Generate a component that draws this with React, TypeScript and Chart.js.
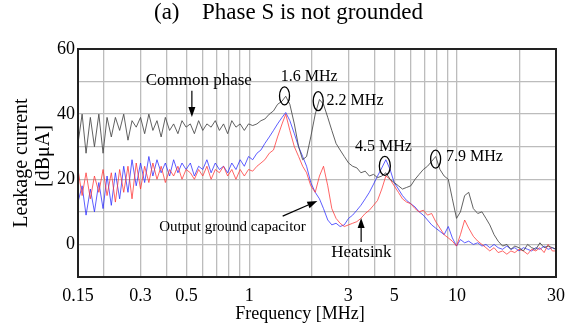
import { useEffect, useRef } from 'react';
import { Chart, registerables } from 'chart.js';

Chart.register(...registerables);

const FONT = '"Liberation Serif", "Times New Roman", Times, serif';

// Frequency samples [MHz]
const FREQ = [
  0.150, 0.157, 0.164, 0.172, 0.180, 0.189, 0.198, 0.207, 0.217, 0.227,
  0.238, 0.249, 0.261, 0.273, 0.286, 0.300, 0.314, 0.329, 0.344, 0.360,
  0.377, 0.395, 0.414, 0.433, 0.454, 0.475, 0.497, 0.521, 0.545, 0.571,
  0.598, 0.626, 0.656, 0.687, 0.719, 0.753, 0.788, 0.825, 0.864, 0.905,
  0.948, 0.993, 1.04, 1.09, 1.14, 1.19, 1.25, 1.31, 1.37, 1.44,
  1.50, 1.57, 1.65, 1.73, 1.81, 1.89, 1.98, 2.08, 2.18, 2.28,
  2.39, 2.50, 2.62, 2.74, 2.87, 3.01, 3.15, 3.30, 3.45, 3.62,
  3.79, 3.97, 4.15, 4.35, 4.55, 4.77, 4.99, 5.23, 5.47, 5.73,
  6.00, 6.29, 6.58, 6.89, 7.22, 7.56, 7.91, 8.29, 8.68, 9.09,
  9.51, 9.96, 10.4, 10.9, 11.4, 12.0, 12.6, 13.2, 13.8, 14.4,
  15.1, 15.8, 16.6, 17.4, 18.2, 19.0, 19.9, 20.9, 21.9, 22.9,
  24.0, 25.1, 26.3, 27.5, 28.8, 30.0,
];

// Common phase [dBuA]
const COMMON = [
  31, 40, 28, 39, 30, 40, 28, 39,
  33, 39, 35, 40, 32, 38, 36, 39, 34, 40, 35, 38, 33, 39, 35, 37, 34, 38, 36,
  37, 34, 38, 35, 37, 36, 38, 35, 37, 34, 38, 36, 37, 35, 37,
  36.5, 37, 38, 38.5, 40, 41, 43, 44, 45.5,
  43, 37, 30, 26, 27, 33, 40, 44.5, 43, 39, 35, 31, 29, 27,
  25, 24, 23.5, 22, 22.5, 21, 21.5, 20.5, 21, 22, 20, 19, 18, 17, 17.5, 18, 20, 21.5, 23, 24, 25.5,
  27, 23, 21, 20, 14, 8, 10, 15, 16, 11, 9.5, 10, 8, 6, 3, 1,
  -0.5, 0, -1.5, -0.5, -1, -2, 0, -1, -1.5, 0.5, -1, -0.5, -1, -1.5,
];

// Output ground capacitor [dBuA]
const OUTPUT_CAP = [
  13, 18, 9, 17, 10, 19, 11,
  21, 12, 22, 14, 24, 16, 26, 18, 25, 19, 27, 21, 26, 22, 25, 21, 26, 22, 25, 23,
  25, 21, 24, 23, 26, 22, 25, 23, 24, 22, 25, 23, 26, 24, 27,
  26, 28, 29, 31, 33, 35, 37, 39, 40.5,
  38, 34, 30, 27, 24, 19, 16, 14, 11, 7.5, 6, 6.5, 5.5, 6,
  8, 9, 10.5, 12, 14, 16, 18.5, 21, 23.5, 26, 23, 19, 17, 15, 13.5, 12.5, 11.5, 10, 9, 7.5, 6,
  5, 4, 3, 5.5, 2, -0.5, 1.5, 0.5, 1, 0, 0.5, -0.5, 0, -1, 0, -1,
  -1.5, -0.5, -1.5, -1, -2, -1, -1.5, -2, -1, -1.5, -0.5, -1.5, -1, -1.5,
];

// Heatsink [dBuA]
const HEATSINK = [
  23, 15, 22, 14, 21, 16, 23,
  15, 22, 13, 23, 16, 24, 14, 25, 17, 24, 19, 25, 20, 24, 19, 23, 21, 24, 20, 23,
  22, 20, 23, 21, 24, 20, 23, 22, 24, 21, 23, 20, 23, 21, 23,
  22.5, 24, 25, 26, 28, 29, 33, 37, 40,
  35, 30, 27, 24, 22, 18, 16, 21, 24, 18, 11, 8, 6.5, 5.5,
  6, 6.5, 7, 8, 9.5, 10.5, 12, 13.5, 17, 21, 20, 18, 16, 14, 13, 12.5, 11, 10, 10.5, 9, 9.5,
  7, 5, 3, 2, 1, -0.5, 3, 7.5, 5, 2.5, 1, 0, -1, -2, -1, -2.5,
  -2, -3, -2, -2.5, -1.5, -2, -3, -1.5, -2, -1, -2.5, 0, -2, -2,
];

const X_GRID = [0.15, 0.2, 0.3, 0.4, 0.5, 0.6, 0.7, 0.8, 0.9, 1, 2, 3, 4, 5, 6, 7, 8, 9, 10, 20, 30];
const X_LABELS = [0.15, 0.3, 0.5, 1, 3, 5, 10, 30];
const Y_GRID = [-10, 0, 10, 20, 30, 40, 50, 60];
const Y_LABELS = [0, 20, 40, 60];

function arrow(ctx: CanvasRenderingContext2D, x1: number, y1: number, x2: number, y2: number) {
  const ang = Math.atan2(y2 - y1, x2 - x1);
  const len = 10;
  const hw = 3.5;
  const bx = x2 - len * Math.cos(ang);
  const by = y2 - len * Math.sin(ang);
  ctx.beginPath();
  ctx.moveTo(x1, y1);
  ctx.lineTo(bx, by);
  ctx.stroke();
  ctx.beginPath();
  ctx.moveTo(x2, y2);
  ctx.lineTo(bx + hw * Math.sin(ang), by - hw * Math.cos(ang));
  ctx.lineTo(bx - hw * Math.sin(ang), by + hw * Math.cos(ang));
  ctx.closePath();
  ctx.fill();
}

const annotPlugin = {
  id: 'annot',
  afterDraw(chart: any) {
    const { ctx, chartArea, scales } = chart;
    const xs = scales.x;
    const ys = scales.y;
    const px = (f: number) => xs.getPixelForValue(f);
    const py = (v: number) => ys.getPixelForValue(v);
    ctx.save();
    // frame
    ctx.strokeStyle = '#222';
    ctx.lineWidth = 2;
    ctx.strokeRect(chartArea.left, chartArea.top, chartArea.right - chartArea.left, chartArea.bottom - chartArea.top);

    ctx.fillStyle = '#000';
    ctx.strokeStyle = '#000';
    ctx.textBaseline = 'middle';

    // title
    ctx.font = `23px ${FONT}`;
    ctx.textAlign = 'left';
    ctx.fillText('(a)', 154, 13);
    ctx.fillText('Phase S is not grounded', 202, 13);

    // axis titles
    ctx.font = `18px ${FONT}`;
    ctx.textAlign = 'center';
    ctx.fillText('Frequency [MHz]', 300, 314);
    ctx.save();
    ctx.translate(22, 163);
    ctx.rotate(-Math.PI / 2);
    ctx.font = `20px ${FONT}`;
    ctx.fillText('Leakage current', 0, 0);
    ctx.restore();
    ctx.save();
    ctx.translate(44, 156);
    ctx.rotate(-Math.PI / 2);
    ctx.font = `20px ${FONT}`;
    ctx.fillText('[dBμA]', 0, 0);
    ctx.restore();

    // annotations
    ctx.font = `17px ${FONT}`;
    ctx.textAlign = 'center';
    ctx.fillText('Common phase', px(0.572), py(50.2));
    ctx.textAlign = 'left';
    ctx.font = `16px ${FONT}`;
    ctx.fillText('1.6 MHz', px(1.42), py(51.4));
    ctx.fillText('2.2 MHz', px(2.36), py(44));
    ctx.fillText('4.5 MHz', px(3.23), py(29.9));
    ctx.fillText('7.9 MHz', px(8.87), py(26.8));
    ctx.font = `15px ${FONT}`;
    ctx.fillText('Output ground capacitor', px(0.369), py(5.3));
    ctx.font = `17px ${FONT}`;
    ctx.textAlign = 'center';
    ctx.fillText('Heatsink', px(3.47), py(-2.6));

    ctx.lineWidth = 1.3;
    const ell = (f: number, v: number, rx: number, ry: number) => {
      ctx.beginPath();
      ctx.ellipse(px(f), py(v), rx, ry, 0, 0, Math.PI * 2);
      ctx.stroke();
    };
    ell(1.48, 45.6, 5, 9);
    ell(2.15, 44.0, 5, 9.5);
    ell(4.5, 24.1, 5.5, 9.5);
    ell(7.9, 26.2, 5, 9);

    ctx.lineWidth = 1.2;
    arrow(ctx, px(0.53), py(47.2), px(0.53), py(39.1));
    arrow(ctx, px(1.45), py(8.7), px(2.13), py(13.3));
    arrow(ctx, px(3.46), py(0.75), px(3.46), py(8.1));
    ctx.restore();
  },
};

export default function App() {
  const ref = useRef<HTMLCanvasElement>(null);
  useEffect(() => {
    document.body.style.margin = '0';
    const canvas = ref.current!;
    const mk = (vals: number[]) => FREQ.map((f, i) => ({ x: f, y: vals[i] }));
    const chart = new Chart(canvas, {
      type: 'line',
      data: {
        datasets: [
          { label: 'Common phase', data: mk(COMMON), borderColor: 'rgba(70,70,70,0.85)', borderWidth: 1, pointRadius: 0, tension: 0 },
          { label: 'Heatsink', data: mk(HEATSINK), borderColor: 'rgba(255,50,50,0.75)', borderWidth: 1, pointRadius: 0, tension: 0 },
          { label: 'Output ground capacitor', data: mk(OUTPUT_CAP), borderColor: 'rgba(40,40,255,0.75)', borderWidth: 1, pointRadius: 0, tension: 0 },
        ],
      },
      options: {
        responsive: false,
        animation: false,
        devicePixelRatio: 1,
        layout: { padding: { top: 49, right: 11, left: 0, bottom: 0 } },
        plugins: { legend: { display: false }, tooltip: { enabled: false }, title: { display: false } },
        scales: {
          x: {
            type: 'logarithmic',
            min: 0.15,
            max: 30,
            afterBuildTicks: (s: any) => { s.ticks = X_GRID.map((v) => ({ value: v })); },
            afterFit: (s: any) => { s.height = 52; },
            grid: { color: '#bcbcbc', lineWidth: 1.3, drawTicks: false },
            border: { display: false },
            ticks: {
              autoSkip: false,
              maxRotation: 0,
              minRotation: 0,
              padding: 8,
              color: '#000',
              font: { family: FONT, size: 18 },
              callback: (v: any) => (X_LABELS.includes(Number(v)) ? String(v) : ''),
            },
          },
          y: {
            min: -10,
            max: 60,
            afterBuildTicks: (s: any) => { s.ticks = Y_GRID.map((v) => ({ value: v })); },
            afterFit: (s: any) => { s.width = 78; },
            grid: { color: '#bcbcbc', lineWidth: 1.3, drawTicks: false },
            border: { display: false },
            ticks: {
              padding: 3,
              color: '#000',
              font: { family: FONT, size: 18 },
              callback: (v: any) => (Y_LABELS.includes(Number(v)) ? String(v) : ''),
            },
          },
        },
      },
      plugins: [annotPlugin],
    } as any);
    return () => chart.destroy();
  }, []);
  return <canvas ref={ref} width={573} height={329} style={{ display: 'block', width: 573, height: 329 }} />;
}
